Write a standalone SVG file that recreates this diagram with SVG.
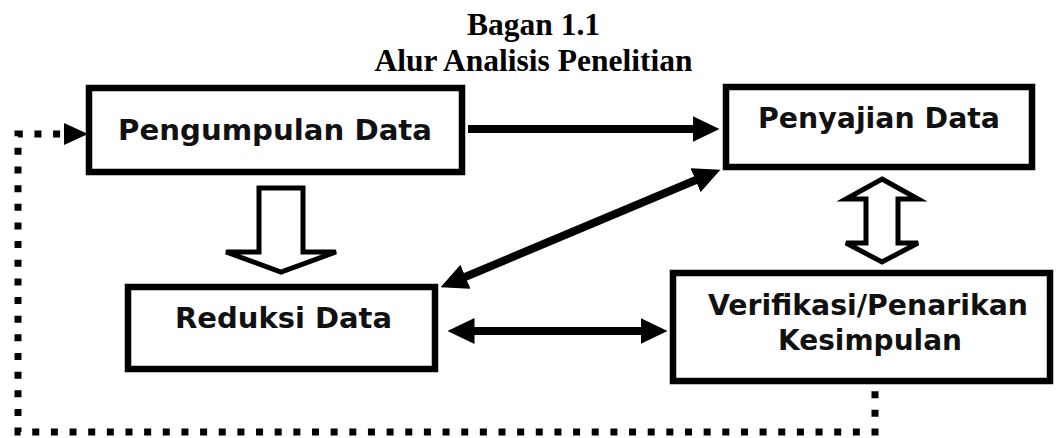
<svg xmlns="http://www.w3.org/2000/svg" width="1057" height="438" viewBox="0 0 1057 438">
  <style>
    .title { font-family: "Liberation Serif", "Times New Roman", serif; font-weight: bold; font-size: 31.5px; fill: #000; text-anchor: middle; }
    .box { fill: #fff; stroke: #000; stroke-width: 6.5; }
    .label { font-family: "DejaVu Sans", Verdana, sans-serif; font-weight: bold; font-size: 29px; fill: #111; text-anchor: middle; }
    .arrow { fill: none; stroke: #000; stroke-width: 8; }
    .hollow { fill: #fff; stroke: #000; stroke-width: 5; stroke-linejoin: miter; }
    .dotted { fill: none; stroke: #000; stroke-width: 7; stroke-dasharray: 7 11.65; stroke-dashoffset: 12.45; }
  </style>
  <defs>
    <marker id="head" markerUnits="userSpaceOnUse" markerWidth="27" markerHeight="26" refX="0.5" refY="13" orient="auto-start-reverse">
      <path d="M0,0 L27,13 L0,26 z" fill="#000"/>
    </marker>
  </defs>

  <rect width="1057" height="438" fill="#fff"/>

  <!-- heading -->
  <text class="title" x="533.5" y="35">Bagan 1.1</text>
  <text class="title" x="533.5" y="71">Alur Analisis Penelitian</text>

  <!-- nodes -->
  <g id="pengumpulan">
    <rect class="box" x="89" y="88" width="373" height="84"/>
    <text class="label" x="275" y="140" textLength="314" lengthAdjust="spacingAndGlyphs">Pengumpulan Data</text>
  </g>
  <g id="penyajian">
    <rect class="box" x="726" y="87" width="306" height="80"/>
    <text class="label" x="879" y="128" textLength="242" lengthAdjust="spacingAndGlyphs">Penyajian Data</text>
  </g>
  <g id="reduksi">
    <rect class="box" x="128" y="287" width="307" height="82"/>
    <text class="label" x="283.5" y="328" textLength="217" lengthAdjust="spacingAndGlyphs">Reduksi Data</text>
  </g>
  <g id="verifikasi">
    <rect class="box" x="673" y="273" width="377" height="108"/>
    <text class="label" x="868" y="315" textLength="320" lengthAdjust="spacingAndGlyphs">Verifikasi/Penarikan</text>
    <text class="label" x="870" y="350" textLength="184" lengthAdjust="spacingAndGlyphs">Kesimpulan</text>
  </g>

  <!-- connectors -->
  <g id="connectors">
    <!-- collection to display -->
    <line class="arrow" x1="468" y1="129" x2="693" y2="129" marker-end="url(#head)"/>
    <!-- reduction <-> display -->
    <line class="arrow" x1="465" y1="277" x2="696" y2="180" marker-start="url(#head)" marker-end="url(#head)"/>
    <!-- reduction <-> conclusion -->
    <line class="arrow" x1="474" y1="331" x2="641" y2="331" marker-start="url(#head)" marker-end="url(#head)"/>
    <!-- collection down to reduction -->
    <polygon class="hollow" points="259,188 303,188 303,252 336,252 281,272 226,252 259,252"/>
    <!-- display <-> conclusion -->
    <polygon class="hollow" points="882,179 918,199 898,199 898,243 918,243 882,262 846,243 866,243 866,199 846,199"/>
    <!-- feedback loop from conclusion back to collection -->
    <path class="dotted" d="M875,385 V432 H18 V134 H64"/>
    <polygon points="64,123 88,134 64,145" fill="#000"/>
  </g>
</svg>
